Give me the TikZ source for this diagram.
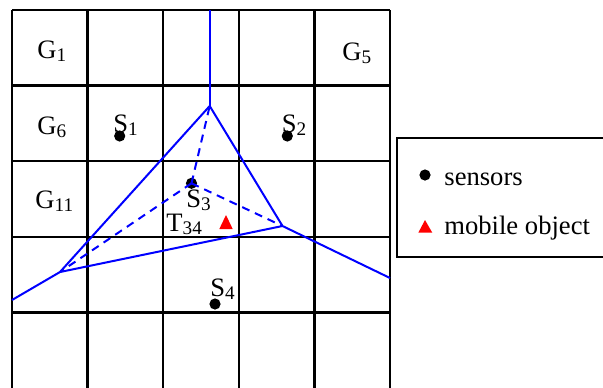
\documentclass[tikz,border=0pt]{standalone}
\usepackage{fontspec}
\setmainfont{Liberation Serif}
\usepackage{xcolor}
\definecolor{cellblue}{HTML}{0000FF}
\definecolor{objred}{HTML}{FF0000}
\newcommand{\lowsub}[1]{\raisebox{-1.6pt}{\fontsize{9.6}{10}\selectfont #1}}

\begin{document}
\begin{tikzpicture}[x=0.5pt, y=-0.5pt,
  font=\fontsize{13.3}{16}\selectfont,
  gridline/.style={line width=1.2pt},
  bisector/.style={cellblue, line width=1pt},
  link/.style={cellblue, line width=1pt, dash pattern=on 4pt off 3pt},
  sensor/.style={circle, fill=black, inner sep=0pt, minimum size=5.6pt},
  lbl/.style={inner sep=0pt, anchor=base west}]
  \useasboundingbox (0,0) rectangle (603,387);

  \foreach \i in {0,...,5}
    \draw[gridline] (12+75.6*\i, 10) -- (12+75.6*\i, 392);
  \foreach \j in {0,...,4}
    \draw[gridline] (12, 10+75.6*\j) -- (390, 10+75.6*\j);

  \node[lbl] (g1)  at ( 37,  58) {G\lowsub{1}};
  \node[lbl] (g5)  at (342,  60) {G\lowsub{5}};
  \node[lbl] (g6)  at ( 37, 134) {G\lowsub{6}};
  \node[lbl] (g11) at ( 35, 208) {G\lowsub{11}};

  \coordinate (top) at (209.7,  10);
  \coordinate (a)   at (209.7, 106);
  \coordinate (b)   at ( 60,   272);
  \coordinate (c)   at (282.5, 226);
  \coordinate (wl)  at ( 12,   300);
  \coordinate (wr)  at (390,   278);

  \draw[bisector] (top) -- (a);
  \draw[bisector] (a) -- (b) -- (wl);
  \draw[bisector] (a) -- (c) -- (wr);
  \draw[bisector] (b) -- (c);

  \node[sensor] (s1) at (119.7, 136)   {};
  \node[sensor] (s2) at (287.3, 136)   {};
  \node[sensor] (s3) at (191.5, 183.3) {};
  \node[sensor] (s4) at (215,   304)   {};

  \draw[link] (s3.center) -- (a);
  \draw[link] (s3.center) -- (b);
  \draw[link] (s3.center) -- (c);

  \node[lbl] (l1)  at (113,   132) {S\lowsub{1}};
  \node[lbl] (l2)  at (281.5, 132) {S\lowsub{2}};
  \node[lbl] (l3)  at (186,   207) {S\lowsub{3}};
  \node[lbl] (l4)  at (210,   296.5) {S\lowsub{4}};
  \node[lbl] (t34) at (166,   231) {T\lowsub{34}};

  \fill[objred] (226, 215) -- (219.3, 229) -- (232.7, 229) -- cycle;

  \draw[line width=1.1pt] (397, 138) rectangle (612, 257);
  \node[sensor] (ldot) at (425, 175) {};
  \node[lbl] (lsens) at (444, 185.5) {sensors};
  \fill[objred] (425, 220) -- (418.3, 232.7) -- (432.3, 232.7) -- cycle;
  \node[lbl] (lmob) at (444, 234) {mobile object};
\end{tikzpicture}
\end{document}
